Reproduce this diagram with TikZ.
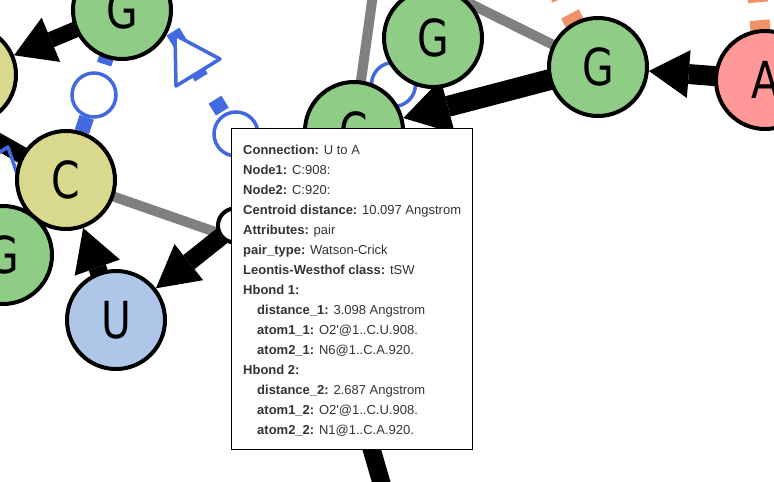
\documentclass[tikz,border=0pt]{standalone}
\usepackage{fontspec}
\usepackage{graphicx}
\newfontfamily\tipfont{Liberation Sans}
\newfontfamily\nodefont{DejaVu Sans}
\usetikzlibrary{calc}
\definecolor{ngreen}{RGB}{143,204,134}
\definecolor{nyellow}{RGB}{217,217,142}
\definecolor{nblue}{RGB}{174,199,232}
\definecolor{npink}{RGB}{255,152,150}
\definecolor{lblue}{RGB}{65,105,225}
\definecolor{lsalmon}{RGB}{241,145,105}
\definecolor{lgray}{RGB}{128,128,128}
\definecolor{tgray}{RGB}{51,51,51}
\pgfdeclarelayer{bg}
\pgfsetlayers{bg,main}
\newcommand{\nlab}[1]{\scalebox{0.8}[1]{#1}}
% black arrow: source, target, shaft width, tip-to-base distance from target centre, half head width
\newcommand{\harrow}[5]{%
  \coordinate (tp) at ($(#2)!51pt!(#1)$);
  \coordinate (bm) at ($(#2)!#4!(#1)$);
  \fill[black] (tp) -- ($(bm)!#5!90:(tp)$) -- ($(bm)!#5!-90:(tp)$) -- cycle;
  \draw[black, line width=#3] (#1) -- (bm);
}
\begin{document}
\begin{tikzpicture}[x=1pt,y=-1pt,
  nd/.style={circle, draw=black, line width=4pt, minimum size=98pt, inner sep=0pt, outer sep=0pt, font=\nodefont\fontsize{51}{51}\selectfont},
  bk/.style={draw=black, line width=#1},
  bl/.style={draw=lblue, line width=15pt},
  bmk/.style={circle, solid, draw=lblue, line width=3.5pt, fill=white, minimum size=44pt, inner sep=0pt},
  kmk/.style={circle, solid, draw=black, line width=4pt, fill=white, minimum size=34pt, inner sep=0pt},
  gl/.style={draw=lgray, line width=10pt},
  sl/.style={draw=lsalmon, line width=20pt, dash pattern=on 11pt off 18pt},
  tl/.style={anchor=base west, inner sep=0pt, font=\tipfont\fontsize{13}{15}\selectfont, text=tgray}]
\useasboundingbox (0,0) rectangle (774,482);
% nodes
\node[nd, fill=nyellow] (ytl) at (-33,75) {};
\node[nd, fill=ngreen] (gtl) at (122,10) {\nlab{G}};
\node[nd, fill=nyellow] (cy) at (66,180) {\nlab{C}};
\node[nd, fill=ngreen] (gbl) at (3,255) {\nlab{G}};
\node[nd, fill=nblue] (u) at (116,320) {\nlab{U}};
\node[nd, fill=ngreen] (gtm) at (433,38) {\nlab{G}};
\node[nd, fill=ngreen] (cg) at (354,131) {\nlab{C}};
\node[nd, fill=ngreen] (gr) at (598,67) {\nlab{G}};
\node[nd, fill=npink] (a) at (765,80) {\nlab{A}};
% hidden / off-picture end points
\coordinate (offl) at (-100,86);
\coordinate (hn2) at (319,268);
\coordinate (b4s) at (154,1);
\coordinate (gtop) at (375,-20);
\coordinate (gtop2) at (422,-20);
\coordinate (sgr) at (552,-20);
\coordinate (sa) at (756,-20);
\coordinate (bbot) at (398,540);
\begin{pgfonlayer}{bg}
\draw[gl] (cy) -- (hn2);
\draw[gl] (cg) -- (gtop);
\draw[gl] (gtop2) -- (gr);
\draw[sl] (gr) -- (sgr);
\draw[sl] (a) -- (sa);
\draw[bk=17pt] (offl) -- (cy);
\draw[bk=18pt] (hn2) -- (bbot);
\harrow{gtl}{ytl}{16pt}{91pt}{24pt}
\harrow{u}{cy}{18pt}{93pt}{24pt}
\harrow{cg}{u}{18pt}{93pt}{23pt}
\node[kmk] (mk) at ($(cg)!0.5!(u)$) {};
\harrow{a}{gr}{20pt}{91pt}{24pt}
\harrow{gr}{cg}{21pt}{97pt}{28pt}
\draw[bl, dash pattern=on 8pt off 56pt on 15pt off 100pt] (gtl) -- node[bmk] (m1) {} (cy);
\draw[bl] (cg) -- node[bmk] (m2) {} (gtm);
\draw[bl, dash pattern=on 14pt off 26pt, dash phase=4pt] (b4s) -- (hn2);
\draw[draw=lblue, line width=3.5pt, fill=white, line join=round] (175,35) -- (220,59) -- (176,86) -- cycle;
\node[bmk] (m4) at (236,134) {};
\draw[draw=lblue, line width=3.5pt, line join=round] (-40,177) -- (8,147) -- (30,212);
\end{pgfonlayer}
% tooltip
\node[draw=black, line width=1pt, fill=white, minimum width=241pt, minimum height=321pt, anchor=north west, inner sep=0pt, outer sep=0pt] (tip) at (231.5,128.5) {};
\node[tl] (t1) at (243,154) {\textbf{Connection:} U to A};
\node[tl] (t2) at (243,174) {\textbf{Node1:} C:908:};
\node[tl] (t3) at (243,194) {\textbf{Node2:} C:920:};
\node[tl] (t4) at (243,214) {\textbf{Centroid distance:} 10.097 Angstrom};
\node[tl] (t5) at (243,234) {\textbf{Attributes:} pair};
\node[tl] (t6) at (243,254) {\textbf{pair\_type:} Watson-Crick};
\node[tl] (t7) at (243,274) {\textbf{Leontis-Westhof class:} tSW};
\node[tl] (t8) at (243,294) {\textbf{Hbond 1:}};
\node[tl] (t9) at (257,314) {\textbf{distance\_1:} 3.098 Angstrom};
\node[tl] (t10) at (257,334) {\textbf{atom1\_1:} O2'@1..C.U.908.};
\node[tl] (t11) at (257,354) {\textbf{atom2\_1:} N6@1..C.A.920.};
\node[tl] (t12) at (243,374) {\textbf{Hbond 2:}};
\node[tl] (t13) at (257,394) {\textbf{distance\_2:} 2.687 Angstrom};
\node[tl] (t14) at (257,414) {\textbf{atom1\_2:} O2'@1..C.U.908.};
\node[tl] (t15) at (257,434) {\textbf{atom2\_2:} N1@1..C.A.920.};
\end{tikzpicture}
\end{document}
